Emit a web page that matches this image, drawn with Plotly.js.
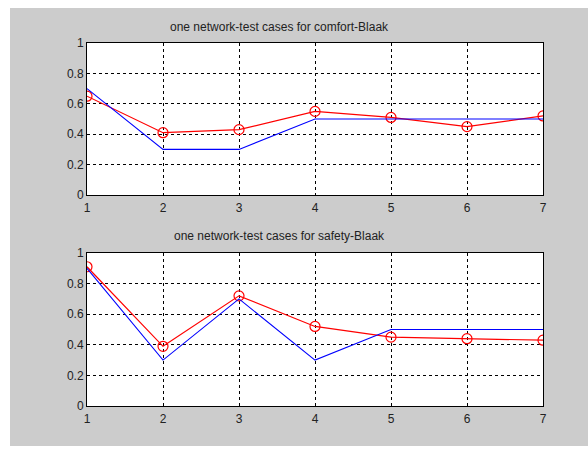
<!DOCTYPE html>
<html>
<head>
<meta charset="utf-8">
<script src="https://cdn.plot.ly/plotly-3.0.1.min.js"></script>
<style>
  html, body { margin: 0; padding: 0; background: #ffffff; width: 588px; height: 452px; overflow: hidden; }
  #chart { position: absolute; left: 10px; top: 8px; width: 578px; height: 438px; }
</style>
</head>
<body>
<div id="chart"></div>
<script>
// Test cases
const cases = [1, 2, 3, 4, 5, 6, 7];
const tickVals = [0, 0.2, 0.4, 0.6, 0.8, 1];
const tickLabels = ["0", "0.2", "0.4", "0.6", "0.8", "1"];

// comfort-Blaak
const comfortTarget = [0.70, 0.30, 0.30, 0.50, 0.50, 0.50, 0.50];
const comfortNetwork = [0.65, 0.41, 0.43, 0.55, 0.51, 0.45, 0.52];

// safety-Blaak
const safetyTarget = [0.90, 0.30, 0.70, 0.30, 0.50, 0.50, 0.50];
const safetyNetwork = [0.91, 0.39, 0.72, 0.52, 0.45, 0.44, 0.43];

const titles = ["one network-test cases for comfort-Blaak", "one network-test cases for safety-Blaak"];

const FONT = "Liberation Sans, Arial, sans-serif";

function redTrace(y, xa, ya) {
  return {
    x: cases, y: y, xaxis: xa, yaxis: ya, type: "scatter", mode: "lines+markers",
    line: { color: "#ff0000", width: 1.2 },
    marker: { symbol: "circle-open", size: 10, color: "#ff0000", line: { color: "#ff0000", width: 1.2 } },
    hoverinfo: "skip", showlegend: false
  };
}
function blueTrace(y, xa, ya) {
  return {
    x: cases, y: y, xaxis: xa, yaxis: ya, type: "scatter", mode: "lines",
    line: { color: "#0000ff", width: 1.1 },
    hoverinfo: "skip", showlegend: false
  };
}

const data = [
  redTrace(comfortNetwork, "x", "y"),
  blueTrace(comfortTarget, "x", "y"),
  redTrace(safetyNetwork, "x2", "y2"),
  blueTrace(safetyTarget, "x2", "y2")
];

function xAxis(anchor) {
  return {
    anchor: anchor, domain: [0, 1], range: [1, 7],
    tickmode: "array", tickvals: cases, ticktext: cases.map(String),
    showgrid: true, gridcolor: "#000000", gridwidth: 1, griddash: "3px,3px",
    showline: true, mirror: true, linecolor: "#000000", linewidth: 1,
    zeroline: false, ticks: "outside", ticklen: 2, tickcolor: "rgba(0,0,0,0)",
    tickfont: { family: FONT, size: 12, color: "#222222" },
    fixedrange: true
  };
}
function yAxis(anchor, domain) {
  return {
    anchor: anchor, domain: domain, range: [0, 1],
    tickmode: "array", tickvals: tickVals, ticktext: tickLabels,
    showgrid: true, gridcolor: "#000000", gridwidth: 1, griddash: "3px,3px",
    showline: true, mirror: true, linecolor: "#000000", linewidth: 1,
    zeroline: false, ticks: "", ticklen: 0,
    tickfont: { family: FONT, size: 12, color: "#222222" },
    fixedrange: true
  };
}

const layout = {
  width: 578, height: 438,
  margin: { l: 77, r: 45, t: 35, b: 40 },
  paper_bgcolor: "#cccccc",
  plot_bgcolor: "#ffffff",
  showlegend: false,
  font: { family: FONT, size: 12, color: "#222222" },
  xaxis: xAxis("y"),
  yaxis: yAxis("x", [0.5813, 1]),
  xaxis2: xAxis("y2"),
  yaxis2: yAxis("x2", [0, 0.4215]),
  annotations: [
    { text: titles[0], xref: "paper", yref: "paper", x: 0.422, y: 1, yshift: 16, xanchor: "center", yanchor: "middle", showarrow: false, font: { family: FONT, size: 12, color: "#222222" } },
    { text: titles[1], xref: "paper", yref: "paper", x: 0.422, y: 0.4215, yshift: 17, xanchor: "center", yanchor: "middle", showarrow: false, font: { family: FONT, size: 12, color: "#222222" } }
  ]
};

Plotly.newPlot("chart", data, layout, { displayModeBar: false, staticPlot: true });
</script>
</body>
</html>
